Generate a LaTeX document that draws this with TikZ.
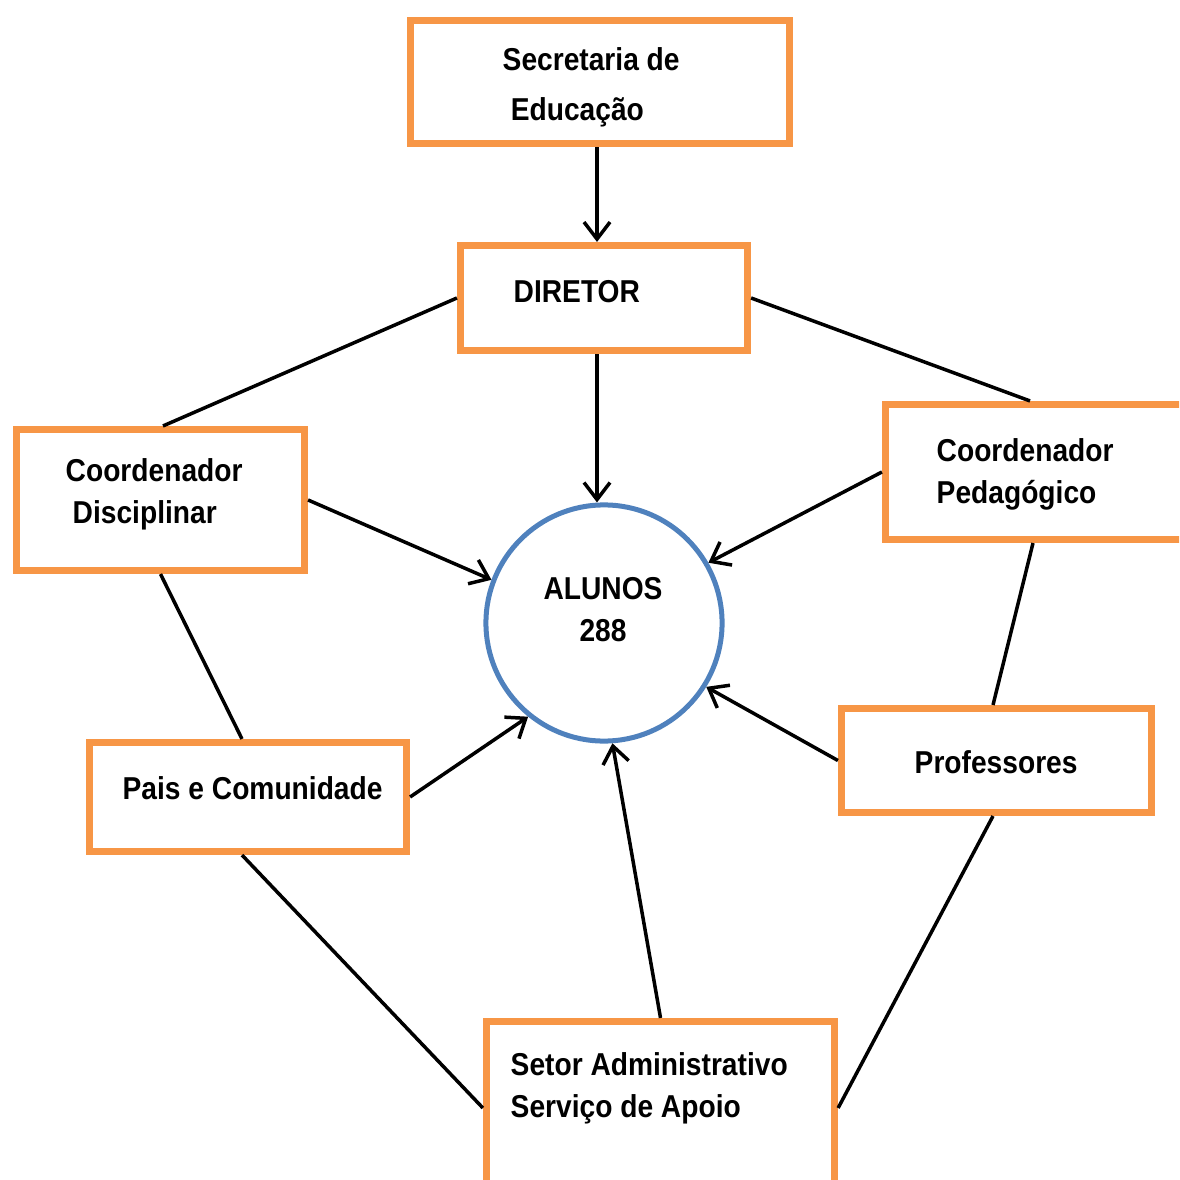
\documentclass[tikz,border=0pt]{standalone}
\usepackage{fontspec}
\setmainfont[FakeStretch=0.89]{Liberation Sans}
\usepackage{xcolor}
\usepackage{tikz}
\usetikzlibrary{arrows.meta}

\definecolor{laranja}{HTML}{F79646}
\definecolor{azul}{HTML}{4F81BD}

\tikzset{
	caixa/.style={rectangle,draw=laranja,line width=0.07cm,inner sep=0pt},
	texto/.style={inner sep=0pt,anchor=north west,align=left,font=\bfseries\fontsize{9}{11.9}\selectfont},
	seta/.style={line width=0.035cm,-{Straight Barb[length=0.17cm,width=0.26cm]}},
	linha/.style={line width=0.035cm}
}

\begin{document}
\begin{tikzpicture}[x=0.01cm,y=-0.01cm]
		\clip (0,0) rectangle (1179,1180);

		\node[caixa,minimum width=3.79cm,minimum height=1.23cm] (sec) at (600,82) {};
		\node[caixa,minimum width=2.87cm,minimum height=1.05cm] (dir) at (604,298) {};
		\node[caixa,minimum width=2.88cm,minimum height=1.41cm] (cdis) at (160.5,500) {};
		\node[caixa,minimum width=3.06cm,minimum height=1.35cm] (cped) at (1038.5,472) {};
		\node[caixa,minimum width=3.17cm,minimum height=1.09cm] (pais) at (248,797) {};
		\node[caixa,minimum width=3.10cm,minimum height=1.04cm] (prof) at (996.5,760.5) {};
		\node[caixa,minimum width=3.48cm,minimum height=1.95cm] (setor) at (660.5,1119) {};
		\node[circle,draw=azul,line width=0.05cm,minimum size=2.36cm,inner sep=0pt] (alunos) at (604,623) {};

		\node[texto] (tsec) at (502,47) {Secretaria de\\[2.3pt]\hspace*{2.3pt}Educação};
		\node[texto] (tdir) at (513,280) {DIRETOR};
		\node[texto] (tcdis) at (65,458) {Coordenador\\\hspace*{2pt}Disciplinar};
		\node[texto] (tcped) at (936,438) {Coordenador\\Pedagógico};
		\node[texto,anchor=north,align=center] (talunos) at (603,577) {ALUNOS\\288};
		\node[texto] (tpais) at (122,776) {Pais e Comunidade};
		\node[texto] (tprof) at (914,750) {Professores};
		\node[texto] (tsetor) at (510,1052) {Setor Administrativo\\Serviço de Apoio};

		\draw[seta] (sec.south -| 597,0) -- (dir.north -| 597,0);
		\draw[seta] (dir.south -| 597,0) -- (alunos.north -| 597,0);
		\draw[linha] (dir.west) -- (cdis.north -| 163,0);
		\draw[linha] (dir.east) -- (cped.north -| 1030,0);
		\draw[seta] (cdis.east) -- (alunos.159);
		\draw[seta] (cped.west) -- (alunos.30);
		\draw[linha] (cdis.south) -- (pais.north -| 242,0);
		\draw[linha] (cped.south -| 1033,0) -- (prof.north -| 993,0);
		\draw[seta] (pais.east) -- (alunos.231);
		\draw[seta] (prof.west) -- (alunos.328);
		\draw[linha] (pais.south -| 242,0) -- (setor.west |- 0,1108);
		\draw[linha] (prof.south -| 993,0) -- (setor.east |- 0,1108);
		\draw[seta] (setor.north) -- (alunos.274);
	\end{tikzpicture}
\end{document}
